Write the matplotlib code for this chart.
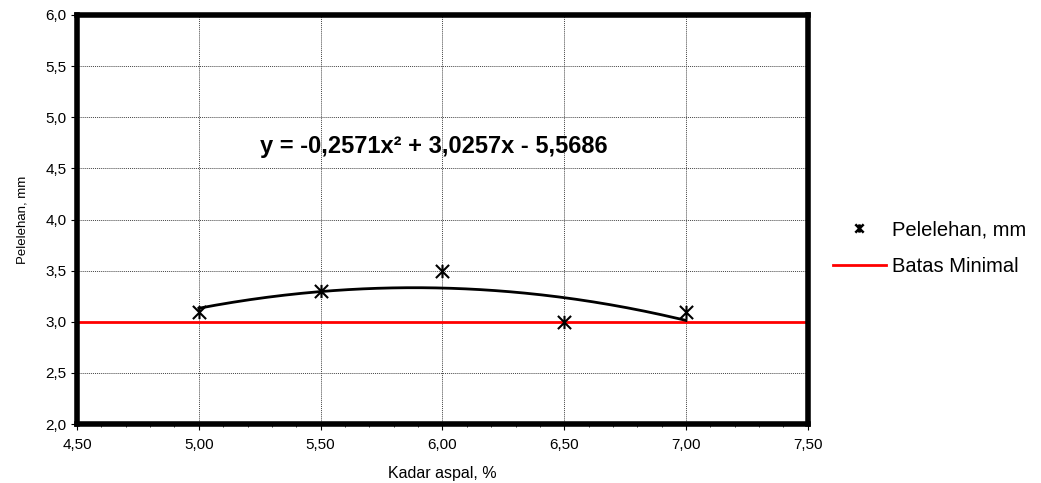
import matplotlib.pyplot as plt
import numpy as np
from matplotlib.path import Path
from matplotlib.lines import Line2D
from matplotlib.ticker import FuncFormatter, MultipleLocator

kadar = [5.0, 5.5, 6.0, 6.5, 7.0]
pelelehan = [3.1, 3.3, 3.5, 3.0, 3.1]
batas_minimal = 3.0
coef = [-0.2571, 3.0257, -5.5686]  # polynomial trend, order 2

plt.rcParams['font.family'] = ['Liberation Sans', 'DejaVu Sans']

# excel style star marker: X with a vertical bar
star = Path([(-1, -1), (1, 1), (-1, 1), (1, -1), (0, -1), (0, 1)],
            [Path.MOVETO, Path.LINETO, Path.MOVETO, Path.LINETO, Path.MOVETO, Path.LINETO])

fig = plt.figure(figsize=(10.41, 4.83), dpi=100)
ax = fig.add_axes([0.074, 0.122, 0.702, 0.847])

xs = np.linspace(kadar[0], kadar[-1], 200)
ax.plot(xs, np.polyval(coef, xs), color='black', lw=2, zorder=3)
ax.axhline(batas_minimal, color='#ff0000', lw=2, zorder=2)
ax.plot(kadar, pelelehan, ls='none', marker=star, ms=9.5, mew=1.5,
        color='black', zorder=4)

ax.set_xlim(4.5, 7.5)
ax.set_ylim(2.0, 6.0)
ax.xaxis.set_major_locator(MultipleLocator(0.5))
ax.xaxis.set_minor_locator(MultipleLocator(0.1))
ax.yaxis.set_major_locator(MultipleLocator(0.5))
ax.xaxis.set_major_formatter(FuncFormatter(lambda v, p: f"{v:.2f}".replace('.', ',')))
ax.yaxis.set_major_formatter(FuncFormatter(lambda v, p: f"{v:.1f}".replace('.', ',')))
ax.tick_params(axis='both', which='major', direction='out', length=4, width=0.8, labelsize=11)
ax.tick_params(axis='x', which='major', pad=6)
ax.tick_params(axis='x', which='minor', direction='out', length=2.5, width=0.6)

ax.grid(True, which='major', color='#444444', ls=(0, (1, 1)), lw=0.7)
for s in ax.spines.values():
    s.set_linewidth(4)

ax.set_xlabel('Kadar aspal, %', fontsize=11.5, labelpad=10)
ax.set_ylabel('Pelelehan, mm', fontsize=9.5, labelpad=12)

ax.text(5.965, 4.71, 'y = -0,2571x² + 3,0257x - 5,5686', fontsize=17,
        fontweight='bold', ha='center', va='center')

handles = [Line2D([], [], ls='none', marker=star, ms=6, mew=1.8, color='black'),
           Line2D([], [], color='#ff0000', lw=2)]
fig.legend(handles, ['Pelelehan, mm', 'Batas Minimal'], loc='center left',
           bbox_to_anchor=(0.783, 0.486), frameon=False, fontsize=14.5,
           handlelength=2.6, labelspacing=0.9, handletextpad=0.3)

fig.savefig('out.png', dpi=100)
